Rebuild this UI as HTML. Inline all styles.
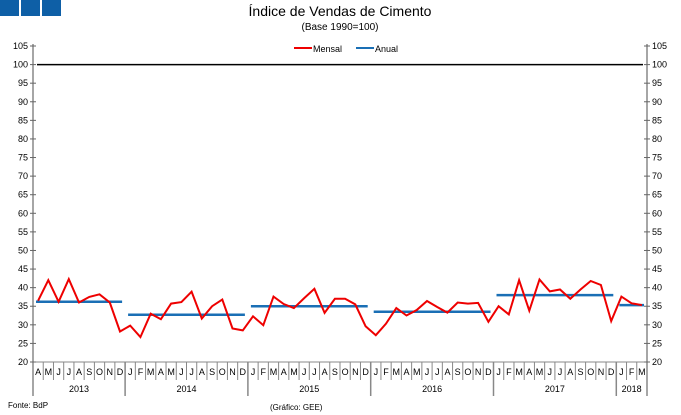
<!DOCTYPE html><html><head><style>body{margin:0;background:#fff}svg{display:block;font-family:"Liberation Sans",Arial,sans-serif}</style></head><body>
<svg id="s" width="681" height="415" xmlns="http://www.w3.org/2000/svg">
<rect x="0" y="0" width="19" height="16" fill="#0e5fa6"/><rect x="21" y="0" width="19" height="16" fill="#0e5fa6"/><rect x="42" y="0" width="19" height="16" fill="#0e5fa6"/>
<text x="340" y="16" text-anchor="middle" font-size="14" fill="#000">Índice de Vendas de Cimento</text>
<text x="340" y="30" text-anchor="middle" font-size="10">(Base 1990=100)</text>
<line x1="294" y1="48" x2="312" y2="48" stroke="#e00" stroke-width="2"/><text x="313" y="52" font-size="9">Mensal</text>
<line x1="356" y1="48" x2="374" y2="48" stroke="#1a6fb5" stroke-width="2"/><text x="375" y="52" font-size="9">Anual</text>
<text x="8" y="408" font-size="8">Fonte: BdP</text><text x="270" y="410" font-size="8">(Gráfico: GEE)</text>
<g id="g"></g>
</svg>
<script>
var g=document.getElementById('g'),h='';
function Y(v){return 362-(v-20)*3.7176}
var L=33,R=647,w=(R-L)/60;
h+='<line x1="'+L+'" y1="44" x2="'+L+'" y2="396" stroke="#888" stroke-width="1.5"/>';
h+='<line x1="'+R+'" y1="44" x2="'+R+'" y2="396" stroke="#888" stroke-width="1.5"/>';
h+='<line x1="'+L+'" y1="362" x2="'+R+'" y2="362" stroke="#888" stroke-width="1"/>';
for(var v=20;v<=105;v+=5){var y=Y(v);
h+='<line x1="'+(L-3)+'" y1="'+y+'" x2="'+(L+3)+'" y2="'+y+'" stroke="#666"/><line x1="'+(R-3)+'" y1="'+y+'" x2="'+(R+3)+'" y2="'+y+'" stroke="#666"/>';
h+='<text x="'+(L-5)+'" y="'+(y+3)+'" font-size="9" text-anchor="end">'+v+'</text><text x="'+(R+5)+'" y="'+(y+3)+'" font-size="9">'+v+'</text>';}
h+='<line x1="37" y1="'+Y(100)+'" x2="643" y2="'+Y(100)+'" stroke="#000" stroke-width="1.5"/>';
var m="JFMAMJJASOND",mon=[];for(var i=0;i<60;i++)mon.push(m[(i+3)%12]);
for(var i=0;i<60;i++){var x=L+w*(i+0.5);h+='<text x="'+x+'" y="375" font-size="9" text-anchor="middle">'+mon[i]+'</text>';
if(i>0)h+='<line x1="'+(L+w*i)+'" y1="362" x2="'+(L+w*i)+'" y2="380" stroke="#888"/>';}
var yrs=[[0,9,'2013'],[9,21,'2014'],[21,33,'2015'],[33,45,'2016'],[45,57,'2017'],[57,60,'2018']];
yrs.forEach(function(a){h+='<text x="'+(L+w*(a[0]+a[1])/2)+'" y="392" font-size="9" text-anchor="middle">'+a[2]+'</text>';if(a[0]>0)h+='<line x1="'+(L+w*a[0])+'" y1="362" x2="'+(L+w*a[0])+'" y2="396" stroke="#888" stroke-width="1.5"/>';});
var d=[36.5,42,36.2,42.3,36,37.5,38.2,36,28.2,29.8,26.7,33,31.5,35.7,36.1,38.9,31.7,35,36.8,29,28.5,32.3,29.9,37.6,35.6,34.5,37.2,39.7,33.2,37,37,35.5,29.6,27.2,30.3,34.5,32.5,34,36.4,34.8,33.3,36,35.7,35.9,30.8,35,32.8,42,33.8,42.2,39,39.5,37,39.5,41.8,40.7,31,37.6,35.8,35.3];
var av=[36.2,32.7,35,33.5,38,35.3];
yrs.forEach(function(a,k){h+='<line x1="'+(L+w*a[0]+3)+'" y1="'+Y(av[k])+'" x2="'+(L+w*a[1]-3)+'" y2="'+Y(av[k])+'" stroke="#1a6fb5" stroke-width="2.5"/>';});
var p=d.map(function(v,i){return (L+w*(i+0.5)).toFixed(1)+','+Y(v).toFixed(1)}).join(' ');
h+='<polyline points="'+p+'" fill="none" stroke="#e00" stroke-width="2"/>';
g.innerHTML=h;
</script></body></html>
